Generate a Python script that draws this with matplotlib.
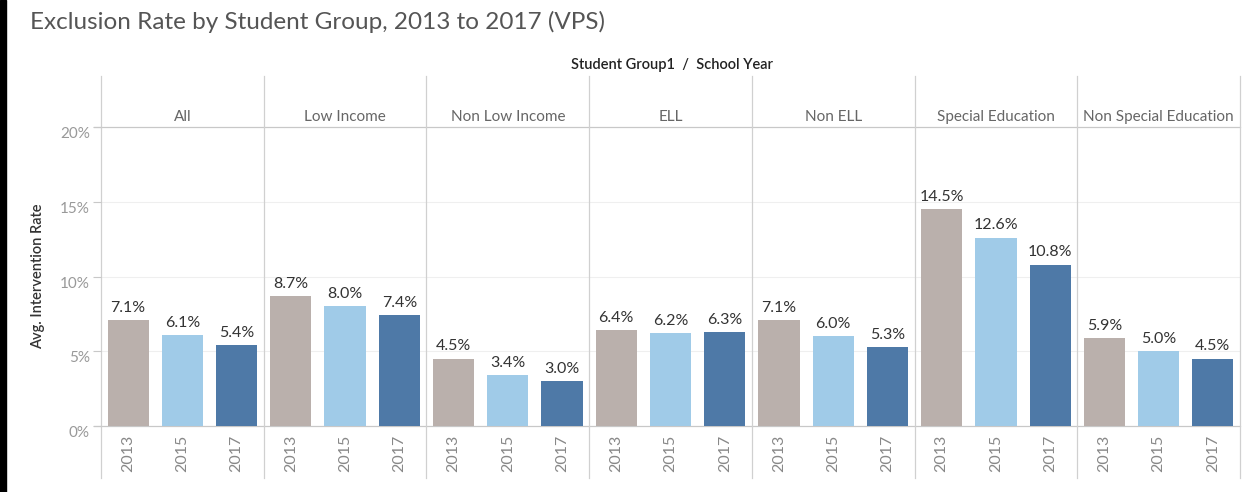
import numpy as np
import matplotlib
matplotlib.use('Agg')
import matplotlib.pyplot as plt
from matplotlib.patches import Rectangle

plt.rcParams['font.family'] = ['Lato', 'DejaVu Sans']

# data
groups = ['All', 'Low Income', 'Non Low Income', 'ELL', 'Non ELL',
          'Special Education', 'Non Special Education']
years = ['2013', '2015', '2017']
rate_2013 = [7.1, 8.7, 4.5, 6.4, 7.1, 14.5, 5.9]
rate_2015 = [6.1, 8.0, 3.4, 6.2, 6.0, 12.6, 5.0]
rate_2017 = [5.4, 7.4, 3.0, 6.3, 5.3, 10.8, 4.5]
yticks = [0, 5, 10, 15, 20]

colors = ['#bab0ac', '#a0cbe8', '#4e79a7']
W, H = 1254, 492

fig = plt.figure(figsize=(W / 100, H / 100), dpi=100)
ax = fig.add_axes([101 / W, 1 - 426 / H, (1240 - 101) / W, (426 - 127) / H])

n = len(groups)
series = [rate_2013, rate_2015, rate_2017]
for j, vals in enumerate(series):
    xs = np.arange(n) * 3 + j
    ax.bar(xs, vals, width=0.76, color=colors[j], zorder=2)
    for x, v in zip(xs, vals):
        ax.text(x, v + 0.35, f'{v:.1f}%', ha='center', va='bottom',
                fontsize=11.5, color='#333333')

ax.set_xlim(-0.5, n * 3 - 0.5)
ax.set_ylim(0, 20)

for s in ax.spines.values():
    s.set_visible(False)

# light gridlines
for y in [5, 10, 15]:
    ax.axhline(y, color='#efefef', lw=0.8, zorder=0)
# 0% and 20% lines
for y in [0, 20]:
    ax.plot([-0.62, n * 3 - 0.5], [y, y], color='#c8c8c8', lw=0.9,
            clip_on=False, zorder=1)

# vertical separators
for k in range(n + 1):
    ax.axvline(k * 3 - 0.5, ymin=-0.175, ymax=1.17, color='#d0d0d0',
               lw=0.9, clip_on=False, zorder=1)

# y ticks
ax.set_yticks(yticks)
ax.set_yticklabels([f'{t}%' for t in yticks])
ax.tick_params(axis='y', length=6, color='#c8c8c8', labelcolor='#999999',
               labelsize=11, pad=2)
for lab in ax.get_yticklabels():
    lab.set_va('top')

# x ticks (years)
xt = [i * 3 + j for i in range(n) for j in range(3)]
ax.set_xticks(xt)
ax.set_xticklabels(years * n, rotation=90)
ax.tick_params(axis='x', length=0, labelcolor='#888888', labelsize=11.5, pad=6)

# group headers
for i, g in enumerate(groups):
    ax.text(i * 3 + 1, 20.7, g, ha='center', va='center', fontsize=11,
            color='#666666')

ax.set_ylabel('Avg. Intervention Rate', fontsize=10.5, color='#333333',
              fontweight='semibold')
ax.yaxis.set_label_coords(-56 / (1240 - 101), 0.5)

fig.text(672 / W, 1 - 65 / H, 'Student Group1  /  School Year', ha='center',
         va='center', fontsize=10.5, color='#222222', fontweight='semibold')
fig.text(30 / W, 1 - 22 / H, 'Exclusion Rate by Student Group, 2013 to 2017 (VPS)',
         ha='left', va='center', fontsize=17.5, color='#555555')

# left border
fig.patches.append(Rectangle((0, 0), 6 / W, 1, transform=fig.transFigure,
                             color='black', zorder=10))

fig.savefig('out.png', dpi=100)
